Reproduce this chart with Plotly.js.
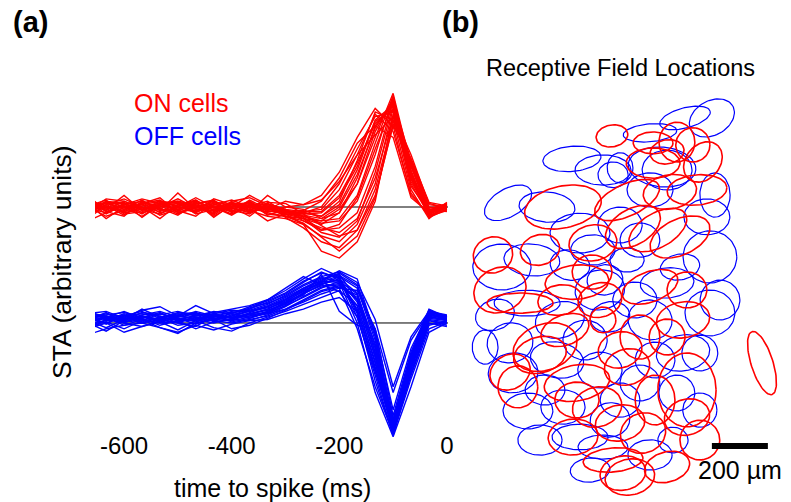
<!DOCTYPE html>
<html>
<head>
<meta charset="utf-8">
<script src="https://cdn.plot.ly/plotly-3.0.1.min.js"></script>
<style>
  html, body { margin: 0; padding: 0; background: #ffffff; }
  #chart { width: 791px; height: 502px; }
</style>
</head>
<body>
<div id="chart"></div>
<script>
// ---- (a) spike-triggered averages, sampled every 33.3 ms before the spike ----
const timeMs = [-666.7, -633.3, -600, -566.7, -533.3, -500, -466.7, -433.3, -400, -366.7,
                -333.3, -300, -266.7, -233.3, -200, -166.7, -133.3, -100, -66.7, -33.3, 0];

const onCells = [
  [0.02,-0.03,0.05,-0.01,0.00,0.03,-0.04,0.01,-0.02,0.04,-0.03,-0.06,-0.08,-0.12,-0.10,0.10,0.55,0.96,0.30,-0.05,0.02],
  [-0.05,0.04,-0.02,0.06,-0.03,-0.01,0.02,-0.05,0.03,-0.02,-0.04,-0.03,-0.10,-0.15,-0.05,0.25,0.70,0.90,0.25,-0.08,0.00],
  [0.08,-0.02,0.01,-0.06,0.03,0.05,-0.02,0.00,-0.06,0.01,0.05,-0.05,-0.05,-0.08,0.05,0.40,0.82,0.75,0.15,-0.10,0.03],
  [-0.10,0.02,0.07,0.00,-0.04,0.02,0.06,-0.03,-0.01,-0.05,0.02,-0.02,-0.12,-0.20,-0.18,-0.05,0.35,0.92,0.40,0.00,-0.02],
  [0.00,-0.08,-0.03,0.04,0.01,-0.06,0.00,0.04,0.02,-0.03,-0.08,-0.10,-0.15,-0.25,-0.30,-0.15,0.20,0.85,0.35,-0.04,0.01],
  [0.04,0.01,-0.05,-0.02,0.05,0.00,-0.03,0.02,0.06,0.00,-0.02,0.00,0.02,0.10,0.30,0.60,0.85,0.70,0.10,-0.06,0.02],
  [-0.03,0.05,0.00,-0.08,0.02,0.04,-0.06,-0.02,0.00,0.03,-0.05,-0.08,-0.10,-0.12,-0.02,0.20,0.60,0.98,0.35,-0.02,-0.01],
  [0.06,-0.04,0.03,0.02,-0.07,-0.02,0.03,0.05,-0.04,0.02,0.00,-0.04,-0.06,-0.05,0.08,0.35,0.75,0.88,0.20,-0.07,0.04],
  [-0.06,0.00,-0.04,0.03,0.06,-0.05,0.01,-0.06,0.05,0.08,0.01,-0.06,-0.15,-0.38,-0.44,-0.30,0.05,0.80,0.45,0.02,0.00],
  [0.01,0.06,-0.06,-0.04,0.00,0.07,-0.01,0.03,-0.03,-0.06,0.03,-0.02,-0.04,-0.02,0.15,0.45,0.80,0.65,0.12,-0.08,-0.03],
  [-0.12,-0.05,0.02,0.05,-0.02,-0.04,0.04,-0.08,0.01,0.02,-0.06,-0.08,-0.12,-0.18,-0.22,-0.10,0.25,0.78,0.38,-0.03,0.02],
  [0.03,-0.02,0.10,-0.03,0.04,0.01,-0.05,0.02,-0.01,-0.04,0.10,0.00,-0.02,-0.10,-0.05,0.20,0.65,0.93,0.28,-0.06,0.01],
  [-0.02,0.03,-0.01,0.00,-0.10,0.02,0.05,-0.01,0.04,-0.01,-0.02,-0.05,-0.05,0.00,0.20,0.50,0.78,0.82,0.18,-0.04,0.00],
  [0.05,-0.06,0.02,0.07,0.03,-0.03,-0.08,0.04,-0.02,0.05,-0.04,-0.03,-0.08,-0.14,-0.12,0.05,0.45,0.95,0.32,-0.09,-0.02],
  [-0.08,0.02,-0.04,-0.01,0.02,0.05,0.02,-0.04,0.00,-0.08,0.04,0.03,-0.06,-0.16,-0.25,-0.20,0.10,0.70,0.42,0.04,0.01],
  [0.00,0.04,0.04,-0.05,-0.01,-0.07,0.03,0.06,-0.05,0.01,-0.01,-0.07,-0.04,-0.04,0.10,0.38,0.72,0.87,0.22,-0.05,0.03],
  [0.03,-0.10,0.00,0.02,0.05,0.03,-0.02,-0.03,0.02,0.04,-0.07,-0.02,-0.09,-0.20,-0.15,0.08,0.50,0.90,0.27,-0.02,-0.04],
  [-0.04,0.01,-0.07,0.04,-0.05,0.00,0.08,0.00,-0.07,0.02,0.02,-0.04,-0.03,0.05,0.25,0.55,0.70,0.60,0.08,-0.05,0.02],
  [0.02,0.03,0.03,-0.03,0.01,-0.02,-0.04,0.07,0.02,-0.03,-0.01,-0.05,-0.07,-0.10,0.00,0.28,0.68,0.92,0.30,-0.06,-0.01],
  [-0.01,-0.05,0.01,0.01,0.03,0.04,0.01,-0.02,0.04,0.00,0.03,-0.09,-0.18,-0.30,-0.35,-0.20,0.15,0.75,0.38,-0.01,0.02],
  [0.10,-0.04,-0.08,0.05,-0.03,0.12,-0.02,0.00,-0.04,0.06,-0.02,0.05,0.02,0.06,0.22,0.45,0.62,0.78,0.26,-0.03,0.03],
  [-0.07,0.05,0.03,-0.09,0.02,-0.02,0.06,-0.07,0.03,-0.01,-0.12,-0.06,-0.10,-0.22,-0.26,-0.12,0.30,0.88,0.36,-0.07,-0.02],
  [0.04,-0.01,-0.02,0.03,0.08,-0.05,-0.01,0.05,0.00,0.10,0.02,-0.03,-0.05,-0.08,0.02,0.32,0.74,0.84,0.24,-0.04,0.02],
  [-0.03,0.07,0.05,-0.02,-0.06,0.01,0.04,-0.09,0.02,-0.04,0.00,-0.08,-0.14,-0.26,-0.38,-0.25,0.08,0.72,0.40,0.03,-0.01]
];

const offCells = [
  [0.05,0.02,0.08,0.03,0.00,0.06,0.04,0.02,0.07,0.10,0.15,0.22,0.30,0.38,0.42,0.20,-0.30,-0.92,-0.35,0.05,0.03],
  [0.00,0.06,0.01,0.05,0.09,0.02,0.03,0.08,0.04,0.06,0.10,0.18,0.25,0.33,0.40,0.30,-0.15,-0.85,-0.30,0.08,0.05],
  [0.10,0.04,0.03,0.12,0.05,0.08,0.07,0.05,0.10,0.12,0.18,0.25,0.35,0.44,0.38,0.05,-0.45,-0.97,-0.40,0.02,0.00],
  [-0.03,0.01,-0.05,0.02,0.04,-0.02,0.00,0.03,0.02,0.05,0.08,0.15,0.22,0.30,0.36,0.25,-0.20,-0.88,-0.28,0.10,0.04],
  [0.04,0.08,0.05,0.00,0.03,0.05,0.10,0.06,0.05,0.08,0.12,0.20,0.28,0.35,0.30,-0.05,-0.55,-0.95,-0.45,-0.02,0.02],
  [0.02,-0.04,0.03,0.06,0.01,0.04,-0.01,0.05,0.08,0.04,0.10,0.16,0.26,0.32,0.34,0.15,-0.35,-0.90,-0.32,0.06,0.06],
  [0.07,0.05,0.10,0.04,0.08,0.03,0.06,0.09,0.12,0.15,0.20,0.28,0.38,0.47,0.40,0.10,-0.40,-0.93,-0.38,0.03,0.01],
  [-0.06,0.03,0.00,-0.03,0.02,0.07,0.03,0.00,0.04,0.06,0.08,0.12,0.18,0.25,0.30,0.28,-0.05,-0.80,-0.25,0.12,0.05],
  [0.03,0.00,0.06,0.08,0.06,0.00,0.05,0.04,0.03,0.09,0.14,0.20,0.30,0.36,0.35,0.00,-0.60,-0.98,-0.55,-0.08,0.00],
  [0.08,0.10,0.04,0.06,0.03,0.09,0.08,0.07,0.09,0.11,0.16,0.24,0.33,0.40,0.44,0.35,0.03,-0.55,-0.12,0.10,0.07],
  [0.01,0.05,0.07,0.01,0.05,0.03,0.02,0.06,0.05,0.07,0.12,0.19,0.27,0.34,0.37,0.18,-0.28,-0.89,-0.36,0.04,0.02],
  [-0.10,-0.05,-0.02,0.00,-0.04,-0.08,-0.02,-0.06,-0.01,0.02,0.03,0.08,0.12,0.18,0.22,0.10,-0.40,-0.94,-0.42,0.00,-0.03],
  [0.06,0.03,0.02,0.07,0.10,0.05,0.08,0.03,0.06,0.13,0.17,0.23,0.32,0.39,0.36,0.12,-0.38,-0.91,-0.30,0.07,0.04],
  [0.04,0.07,0.09,0.05,0.02,0.06,0.03,0.08,0.11,0.10,0.14,0.21,0.29,0.37,0.45,0.38,-0.10,-0.86,-0.33,0.09,0.06],
  [-0.02,0.02,0.04,0.03,0.00,0.01,0.05,0.02,0.00,0.03,0.06,0.12,0.20,0.28,0.32,0.22,-0.25,-0.90,-0.34,0.05,0.03],
  [0.09,0.06,0.03,0.09,0.07,0.10,0.06,0.10,0.08,0.14,0.19,0.26,0.36,0.43,0.39,0.08,-0.50,-0.96,-0.48,-0.05,0.01],
  [0.00,-0.07,0.02,0.04,-0.02,0.02,-0.05,0.01,0.03,0.02,0.07,0.14,0.23,0.31,0.33,0.20,-0.22,-0.87,-0.29,0.08,0.04],
  [0.05,0.04,0.06,0.10,0.04,0.07,0.09,0.04,0.06,0.10,0.13,0.18,0.28,0.35,0.41,0.32,-0.12,-0.84,-0.27,0.11,0.05],
  [0.03,0.09,0.01,0.02,0.08,0.04,0.01,0.07,0.02,0.08,0.11,0.17,0.24,0.42,0.10,-0.02,-0.05,-0.60,-0.15,0.09,0.02],
  [-0.05,0.00,-0.08,-0.03,0.01,-0.06,0.02,-0.04,-0.07,0.00,0.05,0.10,0.16,0.22,0.28,0.15,-0.33,-0.92,-0.37,0.02,-0.02],
  [0.12,0.02,0.05,0.11,0.14,0.06,0.15,0.08,0.04,0.12,0.20,0.30,0.40,0.33,0.27,0.05,-0.42,-0.89,-0.39,0.06,0.02],
  [0.00,0.05,-0.02,0.03,-0.04,-0.09,0.00,0.03,-0.05,-0.02,0.04,0.11,0.19,0.27,0.31,0.24,-0.18,-0.83,-0.31,0.07,0.03],
  [0.06,-0.01,0.07,0.00,0.05,0.02,0.07,0.01,0.09,0.07,0.09,0.15,0.25,0.33,0.38,0.26,-0.26,-0.93,-0.44,-0.01,0.01],
  [-0.04,0.06,0.00,0.06,0.03,0.00,-0.03,0.06,0.01,0.04,0.09,0.17,0.26,0.36,0.43,0.33,-0.08,-0.75,-0.22,0.10,0.06]
];

const xTickVals = [-600, -400, -200, 0];
const xTickText = ['-600', '-400', '-200', '0'];

// ---- (b) receptive-field ellipses (µm): centre, semi-axes, orientation (deg) ----
const rfType  = ['ON','OFF','OFF','OFF','OFF','ON','OFF','ON','OFF','ON','OFF','OFF','ON','ON','ON','OFF',
                 'OFF','OFF','OFF','ON','ON','ON','ON','ON','OFF','OFF','OFF','ON','OFF','ON','ON','OFF','OFF',
                 'ON','ON','ON','ON','OFF','OFF','OFF','ON','ON','OFF','OFF',
                 'OFF','OFF','ON','ON','ON','ON','OFF','OFF','OFF','ON','ON','ON','OFF','OFF','ON','OFF','ON','ON',
                 'ON','ON','OFF','OFF','ON','ON','ON','OFF','OFF','ON','ON','OFF','ON','ON','ON','OFF','ON','ON',
                 'OFF','OFF','ON','OFF','OFF','OFF','OFF','OFF','ON','OFF','OFF','OFF','ON','ON','OFF','OFF',
                 'OFF','ON','OFF','OFF','OFF','ON','OFF','OFF','ON','OFF','OFF','ON','OFF'];
const rfX     = [507,364,475,136,275,332,393,439,439,82,114,221,107,382,436,204,
                 768,864,643,654,739,796,704,832,704,536,686,654,875,811,714,643,511,
                 561,582,671,750,846,857,750,643,775,704,561,
                 54,143,268,250,143,171,154,207,311,382,382,454,332,393,368,475,511,571,
                 179,475,500,857,761,607,704,821,761,561,775,739,775,618,536,725,704,546,
                 536,607,1043,464,589,321,411,643,536,250,429,643,821,321,536,357,
                 893,250,89,607,482,464,661,464,661,500,821,339,268];
const rfY     = [1300,1218,1178,1061,1046,1046,953,918,893,875,832,857,750,778,814,703,
                 1364,1364,1311,1275,1278,1268,1243,1207,1178,1186,1189,1203,1089,1107,1100,1107,1161,
                 1071,975,964,939,1011,868,832,761,750,775,857,
                 546,561,546,518,457,404,454,318,500,418,357,332,332,225,225,189,143,82,
                 703,643,654,668,643,582,582,525,525,475,393,382,296,239,275,214,118,96,
                 357,418,489,750,714,643,571,643,536,214,107,161,214,714,982,839,
                 714,893,661,928,786,714,500,464,357,286,321,607,393];
const rfA     = [57,104,100,93,100,139,107,86,79,71,104,100,96,114,71,118,
                 93,86,96,71,64,61,61,79,89,46,121,96,54,107,96,82,54,
                 125,107,114,114,82,96,71,104,71,96,61,
                 46,82,118,96,75,71,89,89,96,118,79,89,79,100,89,89,107,89,
                 118,46,71,89,96,71,64,64,96,82,104,64,82,82,89,54,82,82,
                 71,71,118,89,79,89,79,79,79,79,71,79,71,79,79,71,
                 71,71,71,71,64,79,71,79,71,71,61,89,71];
const rfB     = [39,45,54,50,54,75,71,64,54,64,82,57,79,61,61,46,
                 36,61,32,39,71,61,43,61,71,54,71,54,79,54,61,61,46,
                 57,64,61,64,64,93,46,54,64,54,43,
                 61,71,82,64,61,75,71,64,64,64,64,71,61,46,64,43,43,64,
                 36,46,54,82,64,79,64,64,64,64,132,64,64,71,64,46,54,61,
                 61,64,39,71,64,64,71,71,64,54,43,54,71,54,64,54,
                 71,54,54,61,54,61,64,64,89,61,61,54,54];
const rfAngle = [10,5,0,30,-5,12,0,10,0,20,0,-5,25,5,0,0,
                 15,30,5,0,0,0,10,50,0,0,-5,0,0,5,10,0,0,
                 25,30,30,25,0,0,10,20,0,5,0,
                 0,10,20,15,30,0,5,0,-10,10,0,15,0,0,5,0,5,10,
                 0,0,10,0,10,0,0,0,10,15,0,0,15,20,10,0,15,10,
                 0,0,107.6,10,0,15,0,-10,15,0,5,0,0,10,0,-10,
                 0,15,20,0,10,15,0,0,0,10,0,20,0];

const scaleBarUm = 200;

// ---- traces ----
const traces = [];
onCells.forEach(v => traces.push({
  type: 'scatter', mode: 'lines', x: timeMs, y: v.map(s => s + 1),
  xaxis: 'x', yaxis: 'y', line: { color: '#ff0000', width: 1.4 },
  hoverinfo: 'skip', showlegend: false
}));
offCells.forEach(v => traces.push({
  type: 'scatter', mode: 'lines', x: timeMs, y: v,
  xaxis: 'x', yaxis: 'y', line: { color: '#0000ff', width: 1.4 },
  hoverinfo: 'skip', showlegend: false
}));

function ellipse(cx, cy, a, b, deg) {
  const th = deg * Math.PI / 180, xs = [], ys = [];
  for (let k = 0; k <= 72; k++) {
    const t = 2 * Math.PI * k / 72;
    xs.push(cx + a * Math.cos(t) * Math.cos(th) - b * Math.sin(t) * Math.sin(th));
    ys.push(cy + a * Math.cos(t) * Math.sin(th) + b * Math.sin(t) * Math.cos(th));
  }
  return { xs, ys };
}
// OFF fields first, ON fields drawn over them
['OFF', 'ON'].forEach(kind => {
  rfType.forEach((ty, i) => {
    if (ty !== kind) return;
    const e = ellipse(rfX[i], rfY[i], rfA[i], rfB[i], rfAngle[i]);
    traces.push({
      type: 'scatter', mode: 'lines', x: e.xs, y: e.ys, xaxis: 'x2', yaxis: 'y2',
      line: { color: kind === 'ON' ? '#ff0000' : '#0000ff', width: kind === 'ON' ? 1.6 : 1.2 },
      hoverinfo: 'skip', showlegend: false
    });
  });
});

// scale bar
const barX0 = 864;
const barY = 193;
traces.push({
  type: 'scatter', mode: 'lines', x: [barX0, barX0 + scaleBarUm], y: [barY, barY],
  xaxis: 'x2', yaxis: 'y2', line: { color: '#000000', width: 6 },
  hoverinfo: 'skip', showlegend: false
});

const W = 791, H = 502;
const px = v => v / W, py = v => 1 - v / H;
const font = 'Liberation Sans, Arial, Helvetica, sans-serif';

const layout = {
  width: W, height: H,
  margin: { l: 0, r: 0, t: 0, b: 0 },
  paper_bgcolor: '#ffffff', plot_bgcolor: 'rgba(0,0,0,0)',
  showlegend: false,
  font: { family: font, color: '#000000', size: 24 },
  xaxis: {
    domain: [px(95), px(448)], range: [-654, 2], anchor: 'y',
    showgrid: false, zeroline: false, showline: false, ticks: '',
    tickvals: xTickVals, ticktext: xTickText, ticklabelstandoff: -11,
    tickfont: { size: 24, family: font }
  },
  yaxis: {
    domain: [py(440), py(80)], range: [-1.009, 2.095], anchor: 'x',
    showgrid: false, zeroline: false, showline: false, ticks: '', showticklabels: false
  },
  xaxis2: {
    domain: [px(470), px(790)], range: [0, 1143], anchor: 'y2',
    visible: false
  },
  yaxis2: {
    domain: [py(500), py(95)], range: [0, 1446], anchor: 'x2',
    visible: false
  },
  shapes: [0, 1].map(level => ({
    type: 'line', xref: 'x domain', yref: 'y', x0: 0, x1: 1, y0: level, y1: level,
    line: { color: '#000000', width: 1 }, layer: 'below'
  })),
  annotations: [
    { text: '<b>(a)</b>', xref: 'paper', yref: 'paper', x: px(30), y: py(22),
      xanchor: 'center', yanchor: 'middle', showarrow: false, font: { size: 29, family: font } },
    { text: '<b>(b)</b>', xref: 'paper', yref: 'paper', x: px(460), y: py(22),
      xanchor: 'center', yanchor: 'middle', showarrow: false, font: { size: 29, family: font } },
    { text: 'Receptive Field Locations', xref: 'paper', yref: 'paper', x: px(620), y: py(68),
      xanchor: 'center', yanchor: 'middle', showarrow: false, font: { size: 23.5, family: font } },
    { text: 'ON cells', xref: 'paper', yref: 'paper', x: px(132), y: py(103),
      xanchor: 'left', yanchor: 'middle', showarrow: false, font: { size: 25, family: font, color: '#ff0000' } },
    { text: 'OFF cells', xref: 'paper', yref: 'paper', x: px(132), y: py(136),
      xanchor: 'left', yanchor: 'middle', showarrow: false, font: { size: 25, family: font, color: '#0000ff' } },
    { text: 'STA (arbitrary units)', xref: 'paper', yref: 'paper', x: px(62), y: py(262),
      xanchor: 'center', yanchor: 'middle', textangle: -90, showarrow: false, font: { size: 26.5, family: font } },
    { text: 'time to spike (ms)', xref: 'paper', yref: 'paper', x: px(272), y: py(488),
      xanchor: 'center', yanchor: 'middle', showarrow: false, font: { size: 25, family: font } },
    { text: scaleBarUm + ' µm', xref: 'x2', yref: 'y2', x: barX0 + scaleBarUm / 2, y: 107,
      xanchor: 'center', yanchor: 'middle', showarrow: false, font: { size: 25, family: font } }
  ]
};

Plotly.newPlot('chart', traces, layout, { staticPlot: true, displayModeBar: false });
</script>
</body>
</html>
